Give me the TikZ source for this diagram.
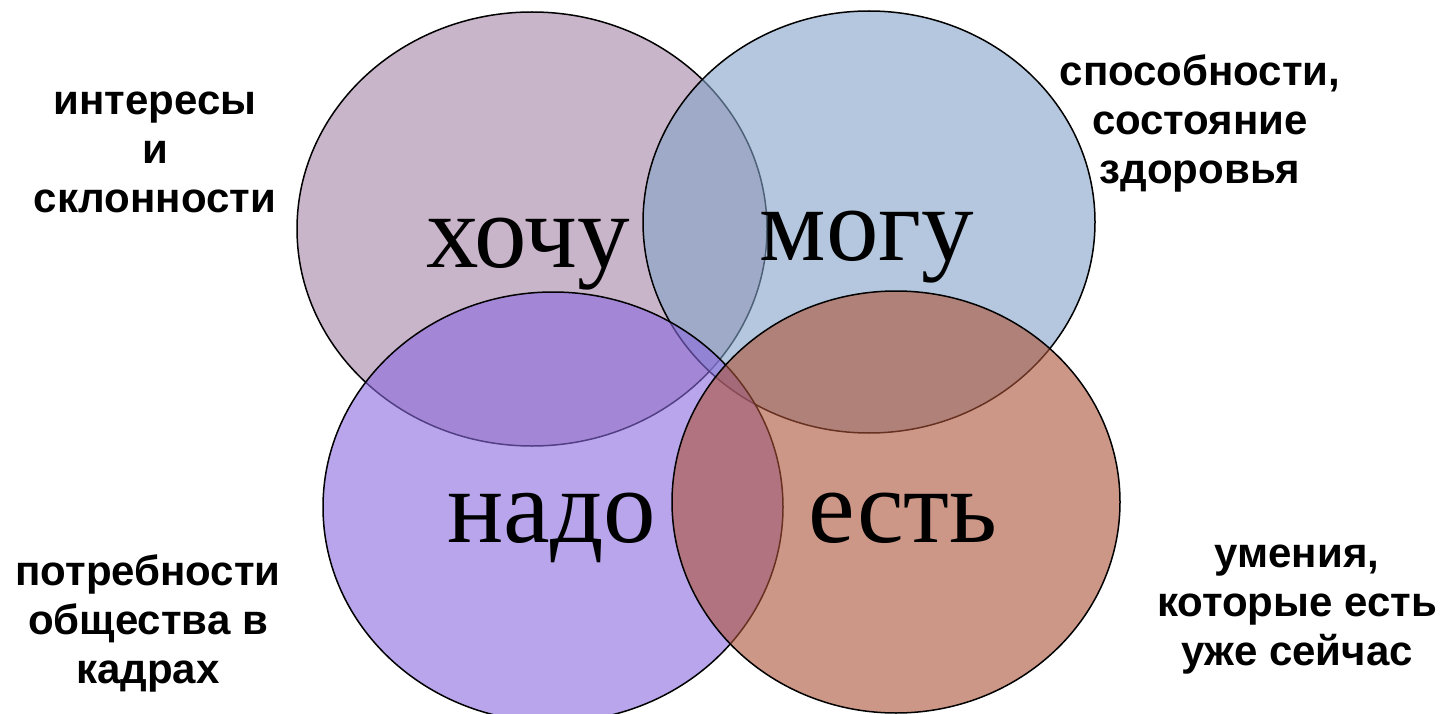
\documentclass[tikz,border=0pt]{standalone}
\usepackage{fontspec}
\setmainfont{Liberation Serif}
\setsansfont{Liberation Sans}

\definecolor{khochu}{RGB}{165,133,167}
\definecolor{mogu}{RGB}{130,163,200}
\definecolor{nado}{RGB}{138,105,222}
\definecolor{est}{RGB}{172,83,55}

\tikzset{
  krug/.style={draw=black, line width=1.5pt, fill opacity=0.6},
  slovo/.style={font=\fontsize{105}{105}\selectfont, inner sep=0pt, anchor=base},
  podpis/.style={font=\sffamily\bfseries\fontsize{42}{49}\selectfont, align=center, inner sep=0pt}
}

\begin{document}
\begin{tikzpicture}[x=1pt,y=-1pt]
\useasboundingbox[fill=white] (0,0) rectangle (1445,714);

\draw[krug, fill=khochu] (532,229) ellipse (235 and 217);
\draw[krug, fill=mogu] (869,222) ellipse (226 and 211);
\draw[krug, fill=nado] (553,507) ellipse (230 and 215);
\draw[krug, fill=est] (896,502) ellipse (224 and 211);

\node[slovo] (khochuTxt) at (528,267) {хочу};
\node[slovo] (moguTxt) at (867,260) {могу};
\node[slovo] (nadoTxt) at (552,542) {надо};
\node[slovo] (estTxt) at (903,542) {есть};

\node[podpis] (interesy) at (155,152) {интересы\\и\\склонности};
\node[podpis] (sposobn) at (1200,123) {способности,\\состояние\\здоровья};
\node[podpis] (potreb) at (148,623) {потребности\\общества в\\кадрах};
\node[podpis] (umeniya) at (1297,610) {умения,\\которые есть\\уже сейчас};

\end{tikzpicture}
\end{document}
